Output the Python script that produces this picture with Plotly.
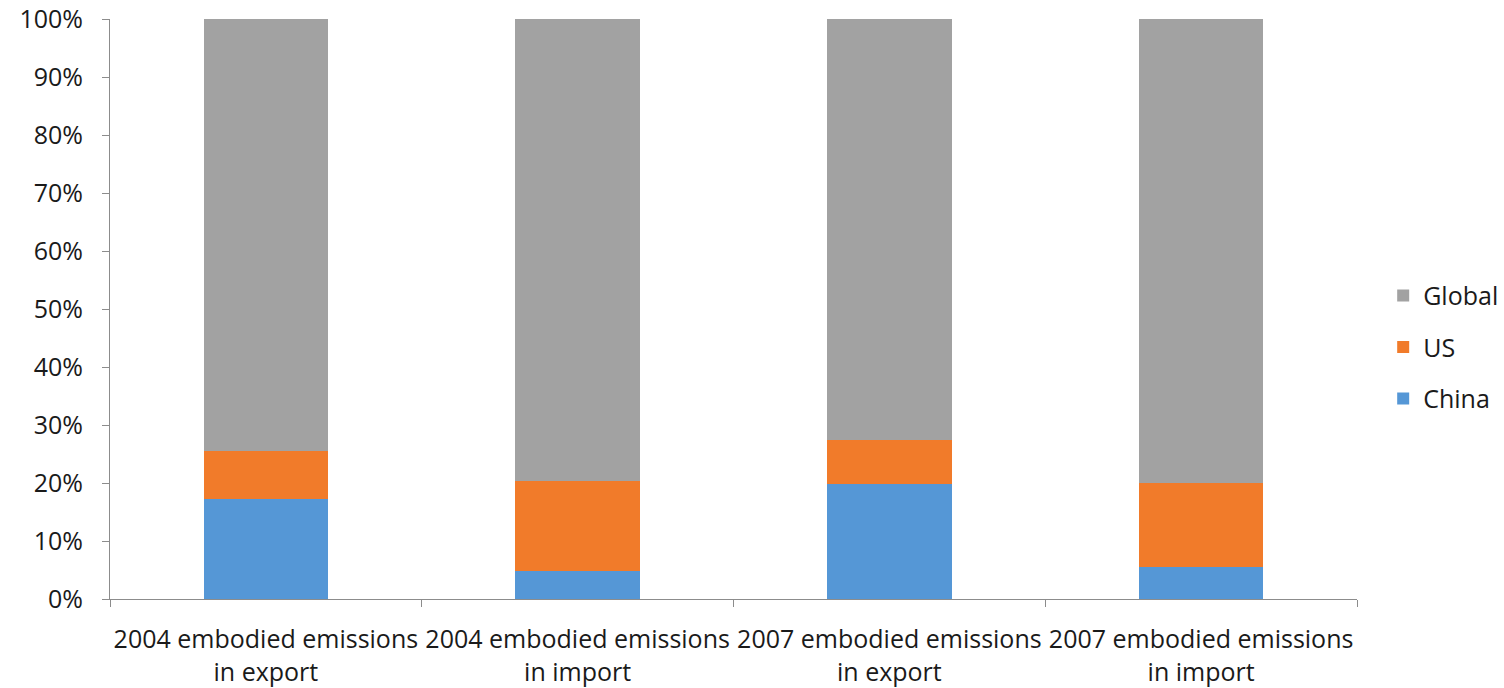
import plotly.graph_objects as go

# Share of embodied emissions by region (percent of each bar)
categories = [
    "2004 embodied emissions<br>in export",
    "2004 embodied emissions<br>in import",
    "2007 embodied emissions<br>in export",
    "2007 embodied emissions<br>in import",
]
china = [17.2, 4.8, 19.9, 5.5]
us = [8.3, 15.5, 7.5, 14.5]
global_rest = [74.5, 79.7, 72.6, 80.0]

y_ticks = [0, 10, 20, 30, 40, 50, 60, 70, 80, 90, 100]
y_tick_labels = [f"{v}%" for v in y_ticks]

FONT = "Open Sans, Noto Sans, sans-serif"

fig = go.Figure()
series = [
    ("China", china, "#5597d6", 3),
    ("US", us, "#f17b2a", 2),
    ("Global", global_rest, "#a2a2a2", 1),
]
for name, vals, color, rank in series:
    fig.add_trace(go.Bar(
        name=name, x=categories, y=vals,
        marker=dict(color=color, line=dict(width=0)),
        width=0.4, legendgroup=name, legendrank=rank,
    ))

fig.update_layout(
    barmode="stack",
    width=1504, height=688,
    margin=dict(l=110, r=147, t=19, b=89, autoexpand=False),
    paper_bgcolor="white", plot_bgcolor="white",
    font=dict(family=FONT, size=25, color="#1a1a1a"),
    showlegend=True,
    legend=dict(
        traceorder="grouped", x=1.021, y=0.434, xanchor="left", yanchor="middle",
        font=dict(size=25), tracegroupgap=16, itemwidth=30,
    ),
    xaxis=dict(
        type="category", tickangle=0, tickson="boundaries",
        ticks="outside", ticklen=7, tickcolor="#8c8c8c",
        showline=True, linecolor="#8c8c8c", linewidth=1,
        showgrid=False, tickfont=dict(size=25), automargin=False,
        ticklabelstandoff=18,
    ),
    yaxis=dict(
        range=[0, 100], tickvals=y_ticks, ticktext=y_tick_labels,
        ticks="outside", ticklen=7, tickcolor="#8c8c8c",
        showline=True, linecolor="#8c8c8c", linewidth=1,
        showgrid=False, zeroline=False, tickfont=dict(size=25),
        ticklabelstandoff=14, automargin=False,
    ),
)

fig.write_html("out.html")
